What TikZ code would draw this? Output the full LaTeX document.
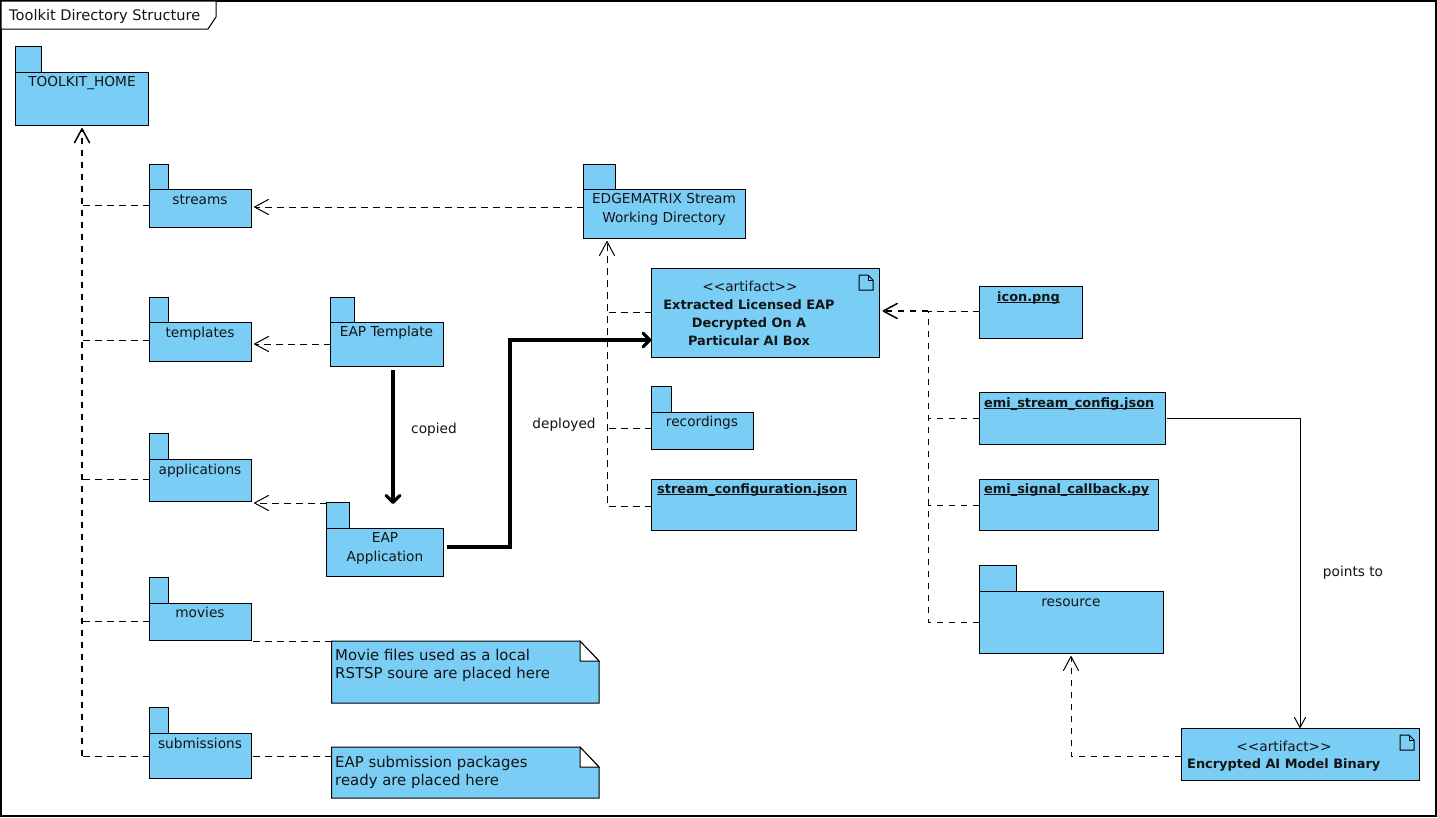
\documentclass[tikz,border=0pt]{standalone}
\usepackage{fontspec}
\setmainfont{DejaVu Sans}
\usetikzlibrary{arrows.meta,calc}
\definecolor{umlblue}{RGB}{122,206,245}
\newcommand\ulbold[1]{\setbox0\hbox{\bfseries #1}\rlap{\rule[-1.5pt]{\wd0}{0.9pt}}\box0}
\tikzset{
  boxnode/.style={draw=black,fill=umlblue,line width=1pt,inner sep=0pt,outer sep=0pt},
  tabshape/.style={draw=black,fill=umlblue,line width=1pt},
  txt/.style={font=\fontsize{13.7}{18.5}\selectfont,align=center,inner sep=0pt,text=black!92},
  boldtxt/.style={txt,font=\fontsize{12.9}{18}\selectfont\bfseries},
  notetxt/.style={font=\fontsize{14.9}{18.8}\selectfont,align=left,inner sep=0pt,anchor=north west,text=black!92},
  dep/.style={line width=1pt,dash pattern=on 6.5pt off 5.5pt},
  vee/.style={-{Straight Barb[length=14pt,width=15pt,round=false]},shorten >=3pt},
  heavyvee/.style={vee,line width=1.5pt},
  smallvee/.style={-{Straight Barb[length=10pt,width=11pt,round=false]}},
  heavy/.style={line width=3.2pt,-{Straight Barb[length=7pt,width=14pt,round=false]}},
}
% #1 name, #2 x1, #3 x2, #4 top, #5 bottom
\newcommand\bodybox[5]{%
  \pgfmathsetmacro\wbx{#3-#2}%
  \pgfmathsetmacro\hbx{#5-#4}%
  \node[boxnode,minimum width=\wbx pt,minimum height=\hbx pt] (#1) at ({(#2+#3)/2},{(#4+#5)/2}) {};}
% #1 name, #2 x1, #3 x2, #4 tabtop, #5 tabright, #6 bodytop, #7 bottom
\newcommand\pkgbox[7]{%
  \draw[tabshape] (#2,#6) -- (#2,#4) -- (#5,#4) -- (#5,#6) -- cycle;
  \bodybox{#1}{#2}{#3}{#6}{#7}}
\newcommand\docicon[2]{%
  \draw[line width=1pt,fill=umlblue] (#1,#2) -- (#1+9,#2) -- (#1+14,#2+5) -- (#1+14,#2+15) -- (#1,#2+15) -- cycle;
  \draw[line width=1pt] (#1+9,#2) -- (#1+9,#2+5) -- (#1+14,#2+5);}
% #1 name, #2 y top, #3 y bottom
\newcommand\notebox[3]{%
  \path (331.5,#2) coordinate (#1-nw) (599,#3) coordinate (#1-se);
  \draw[boxnode] (331.5,#2) -- (580,#2) -- (599,#2+20) -- (599,#3) -- (331.5,#3) -- cycle;
  \fill[white,draw=black,line width=1pt] (580,#2) -- (599,#2+20) -- (580,#2+20) -- cycle;}
\begin{document}
\begin{tikzpicture}[x=1pt,y=-1pt]
\useasboundingbox (0,0) rectangle (1437,817);
\fill[white] (0,0) rectangle (1437,817);
\draw[line width=1.2pt] (1,1) rectangle (1436,816);
\draw[line width=1pt,fill=white] (1,1) -- (216,1) -- (216,17) -- (208,29) -- (1,29) -- cycle;
\node[txt,anchor=west,font=\fontsize{14.6}{18}\selectfont] (frametitle) at (9,16) {Toolkit Directory Structure};

% packages
\pkgbox{home}{15.5}{148.5}{46}{41.5}{72}{125}
\pkgbox{streams}{149.5}{251}{164}{168}{189}{227}
\pkgbox{templates}{149.5}{251}{297}{168}{322}{361}
\pkgbox{applications}{149.5}{251}{433}{168}{459}{501}
\pkgbox{movies}{149.5}{251}{577}{168}{603}{640}
\pkgbox{submissions}{149.5}{251}{707}{168}{733}{778}
\pkgbox{eaptemplate}{330.5}{443}{297}{354}{322}{366}
\pkgbox{eapapp}{326.5}{443.5}{502}{349}{528}{576}
\pkgbox{edge}{583.5}{745.5}{164}{615.5}{189}{238}
\pkgbox{recordings}{651.5}{753}{386}{671}{412}{449}
\pkgbox{resource}{979}{1163}{565}{1016}{591}{653}
% plain boxes
\bodybox{artifact}{651.5}{879.5}{268}{357}
\bodybox{icon}{979.5}{1082.5}{286}{338}
\bodybox{emiconfig}{979}{1165}{392}{444}
\bodybox{emisignal}{979}{1158}{479}{530}
\bodybox{streamcfg}{651.5}{856}{479}{530}
\bodybox{binary}{1181}{1419}{728}{780}
\docicon{859}{275}
\docicon{1400}{735}
\notebox{movienote}{641}{703}
\notebox{subnote}{747}{798}

% texts
\node[txt] (t1) at (82,83) {TOOLKIT\_HOME};
\node[txt] (t2) at (200,200) {streams};
\node[txt] (t3) at (200,333.5) {templates};
\node[txt] (t4) at (200,471) {applications};
\node[txt] (t5) at (200,612) {movies};
\node[txt] (t6) at (200,743.5) {submissions};
\node[txt] (t7) at (386.5,333) {EAP Template};
\node[txt,anchor=north,font=\fontsize{13.7}{19}\selectfont] (t8) at (385,532) {EAP\\Application};
\node[txt,anchor=north] (t9) at (664,193.5) {EDGEMATRIX Stream\\Working Directory};
\node[txt] (t10) at (702,423) {recordings};
\node[txt] (t11) at (1071,603) {resource};
\node[txt] (t12) at (750,286) {<{}<artifact>{}>};
\node[boldtxt,anchor=north] (t13) at (749,299) {Extracted Licensed EAP\\Decrypted On A\\Particular AI Box};
\node[txt] (t14) at (1028.5,298) {\ulbold{\fontsize{12.9}{18}\selectfont icon.png}};
\node[txt,anchor=west] (t15) at (984,404) {\ulbold{\fontsize{12.9}{18}\selectfont emi\_stream\_config.json}};
\node[txt,anchor=west] (t16) at (984,490) {\ulbold{\fontsize{12.9}{18}\selectfont emi\_signal\_callback.py}};
\node[txt,anchor=west] (t17) at (657,490) {\ulbold{\fontsize{12.9}{18}\selectfont stream\_configuration.json}};
\node[txt] (t18) at (1284,746) {<{}<artifact>{}>};
\node[boldtxt,anchor=west] (t19) at (1187,765) {Encrypted AI Model Binary};
\node[notetxt] (t20) at (335,648.5) {Movie files used as a local\\RSTSP soure are placed here};
\node[notetxt] (t21) at (335,755.5) {EAP submission packages\\ready are placed here};
\node[txt] (l1) at (434,430) {copied};
\node[txt] (l2) at (564,425) {deployed};
\node[txt] (l3) at (1353,573) {points to};

% connectors: trunk to TOOLKIT_HOME
\draw[dep] (submissions.west |- 0,756) -- (home.south |- 0,756);
\draw[dep,heavyvee] (home.south |- 0,756) -- (home.south);
\draw[dep] (streams.west |- 0,205) -- (home.south |- 0,205);
\draw[dep] (templates.west |- 0,340) -- (home.south |- 0,340);
\draw[dep] (applications.west |- 0,479) -- (home.south |- 0,479);
\draw[dep] (movies.west |- 0,621) -- (home.south |- 0,621);
% to packages
\draw[dep,vee] (edge.west |- 0,207) -- (streams.east |- 0,207);
\draw[dep,vee] (eaptemplate.west |- 0,344) -- (templates.east |- 0,344);
\draw[dep,vee] (eapapp.west |- 0,503) -- (applications.east |- 0,503);
% trunk to EDGEMATRIX
\coordinate (edgein) at (607,238);
\draw[dep,vee] (streamcfg.west |- 0,506) -| (edgein);
\draw[dep] (artifact.west |- 0,312) -- (edgein |- 0,312);
\draw[dep] (recordings.west |- 0,428) -- (edgein |- 0,428);
% trunk to artifact
\coordinate (rightjoin) at (928,311);
\draw[dep] (icon.west |- 0,311) -- (rightjoin);
\draw[dep,heavyvee] (rightjoin) -- (artifact.east |- 0,311);
\draw[dep] (resource.west |- 0,622) -| (rightjoin);
\draw[dep] (emiconfig.west |- 0,418) -- (rightjoin |- 0,418);
\draw[dep] (emisignal.west |- 0,505) -- (rightjoin |- 0,505);
% binary
\draw[dep,vee] (binary.west |- 0,756) -| (resource.south);
\draw[line width=1pt,smallvee,shorten <=2pt] (emiconfig.east |- 0,418) -| (binary.north -| 1300,0);
% notes
\draw[dep,shorten <=2pt] (movies.east |- 0,641) -- (movienote-nw);
\draw[dep,shorten <=2pt] (submissions.east |- 0,756) -- (movienote-nw |- 0,756);
% heavy
\draw[heavy,shorten <=4pt,shorten >=24pt] (eaptemplate.south -| 393,0) -- (eapapp.north -| 393,0);
\draw[heavy,shorten <=3.5pt] (eapapp.east |- 0,547) -- (510,547) -- (510,340) -- (artifact.west |- 0,340);
\end{tikzpicture}
\end{document}
